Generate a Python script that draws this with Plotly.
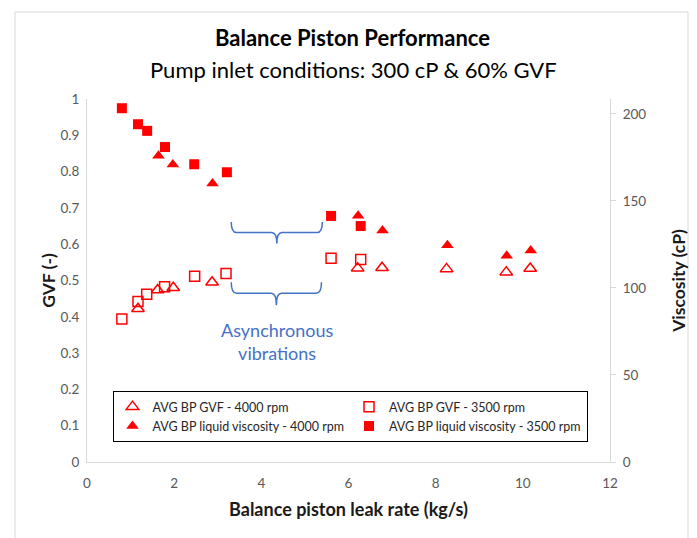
import plotly.graph_objects as go

# GVF - 4000 rpm (open triangles, left axis)
gvf4000_x = [1.17, 1.62, 1.98, 2.87, 6.21, 6.77, 8.25, 9.62, 10.17]
gvf4000_y = [0.422, 0.474, 0.480, 0.495, 0.534, 0.535, 0.532, 0.523, 0.533]

# GVF - 3500 rpm (open squares, left axis)
gvf3500_x = [0.80, 1.17, 1.37, 1.78, 2.47, 3.19, 5.60, 6.28]
gvf3500_y = [0.394, 0.442, 0.462, 0.483, 0.512, 0.519, 0.561, 0.558]

# Liquid viscosity - 4000 rpm (filled triangles, right axis)
visc4000_x = [1.64, 1.97, 2.88, 6.22, 6.78, 8.27, 9.63, 10.18]
visc4000_y = [176.0, 171.0, 160.0, 141.5, 133.0, 124.5, 118.5, 121.5]

# Liquid viscosity - 3500 rpm (filled squares, right axis)
visc3500_x = [0.80, 1.17, 1.38, 1.79, 2.46, 3.21, 5.60, 6.28]
visc3500_y = [203.3, 194.1, 190.3, 181.0, 171.1, 166.5, 141.4, 135.6]

x_ticks = [0, 2, 4, 6, 8, 10, 12]
gvf_ticks = [0, 0.1, 0.2, 0.3, 0.4, 0.5, 0.6, 0.7, 0.8, 0.9, 1]
visc_ticks = [0, 50, 100, 150, 200]

RED = "#FF0000"
BLUE = "#4472C4"
FONT = "Lato"

fig = go.Figure()
fig.add_trace(go.Scatter(x=gvf4000_x, y=gvf4000_y, mode="markers",
                         name="AVG BP GVF - 4000 rpm", legendgroup="a",
                         marker=dict(symbol="triangle-up-open", size=11, color=RED,
                                     line=dict(width=1.5, color=RED))))
fig.add_trace(go.Scatter(x=gvf3500_x, y=gvf3500_y, mode="markers",
                         name="AVG BP GVF - 3500 rpm", legendgroup="b",
                         marker=dict(symbol="square-open", size=10, color=RED,
                                     line=dict(width=1.5, color=RED))))
fig.add_trace(go.Scatter(x=visc4000_x, y=visc4000_y, mode="markers", yaxis="y2",
                         name="AVG BP liquid viscosity - 4000 rpm", legendgroup="a",
                         marker=dict(symbol="triangle-up", size=11, color=RED)))
fig.add_trace(go.Scatter(x=visc3500_x, y=visc3500_y, mode="markers", yaxis="y2",
                         name="AVG BP liquid viscosity - 3500 rpm", legendgroup="b",
                         marker=dict(symbol="square", size=10, color=RED)))


def brace(x0, x1, ytop, yh, ytip, d=0.12):
    xm = (x0 + x1) / 2
    return (f"M {x0},{ytop} Q {x0},{yh} {x0 + d},{yh} L {xm - d},{yh} "
            f"Q {xm},{yh} {xm},{ytip} Q {xm},{yh} {xm + d},{yh} "
            f"L {x1 - d},{yh} Q {x1},{yh} {x1},{ytop}")


PW, PH = 523, 363  # plot area size in px

shapes = [
    dict(type="path", xref="x", yref="y", path=brace(3.31, 5.40, 0.661, 0.632, 0.602),
         line=dict(color=BLUE, width=1.5)),
    dict(type="path", xref="x", yref="y", path=brace(3.31, 5.38, 0.495, 0.465, 0.432),
         line=dict(color=BLUE, width=1.5)),
    # outer chart border
    dict(type="rect", xref="paper", yref="paper",
         x0=(15 - 87) / PW, x1=(688 - 87) / PW,
         y0=(462 - 545) / PH, y1=(462 - 12) / PH,
         line=dict(color="#D9D9D9", width=1), layer="below"),
]

annotations = [
    dict(text="<b>Balance Piston Performance</b>", xref="paper", yref="paper",
         x=(352 - 87) / PW, y=(462 - 38) / PH, showarrow=False, yanchor="middle",
         font=dict(family=FONT, size=22, color="#000000")),
    dict(text="Pump inlet conditions: 300 cP & 60% GVF", xref="paper", yref="paper",
         x=(353 - 87) / PW, y=(462 - 70) / PH, showarrow=False, yanchor="middle",
         font=dict(family=FONT, size=22, color="#000000")),
    dict(text="Asynchronous<br>vibrations", xref="x", yref="y", x=4.36, y=0.333,
         showarrow=False, yanchor="middle",
         font=dict(family=FONT, size=18, color=BLUE)),
]

fig.update_layout(
    width=689, height=530,
    margin=dict(l=79, r=87, t=91, b=76, autoexpand=False),
    paper_bgcolor="white", plot_bgcolor="white",
    font=dict(family=FONT, color="#595959", size=13),
    shapes=shapes, annotations=annotations,
    xaxis=dict(range=[0, 12], tickvals=x_ticks, showgrid=False, zeroline=False,
               showline=True, linecolor="#D9D9D9", linewidth=1, ticks="",
               ticklabelstandoff=9,
               tickfont=dict(size=13.5, color="#595959"),
               title=dict(text="<b>Balance piston leak rate (kg/s)</b>", standoff=13,
                          font=dict(size=18, color="#1a1a1a"))),
    yaxis=dict(range=[0, 1], tickvals=gvf_ticks, showgrid=False, zeroline=False,
               showline=True, linecolor="#D9D9D9", linewidth=1, ticks="",
               ticklabelstandoff=4,
               tickfont=dict(size=13.5, color="#595959"),
               title=dict(text="<b>GVF (-)</b>", standoff=0,
                          font=dict(size=17.5, color="#1a1a1a"))),
    yaxis2=dict(range=[0, 208.6], tickvals=visc_ticks, overlaying="y", side="right",
                showgrid=False, zeroline=False, showline=True, linecolor="#D9D9D9",
                linewidth=1, ticks="outside", ticklen=5, tickcolor="#D9D9D9",
                ticklabelstandoff=4,
                tickfont=dict(size=13.5, color="#595959"),
                title=dict(text="<b>Viscosity (cP)</b>", standoff=27,
                           font=dict(size=17.5, color="#1a1a1a"))),
    legend=dict(orientation="h", traceorder="grouped", tracegroupgap=0,
                x=(350 - 87) / PW, y=(462 - 391) / PH,
                xanchor="center", yanchor="top",
                bordercolor="#000000", borderwidth=1, bgcolor="white",
                font=dict(size=12.5, color="#262626")),
)

fig.write_html("out.html")
